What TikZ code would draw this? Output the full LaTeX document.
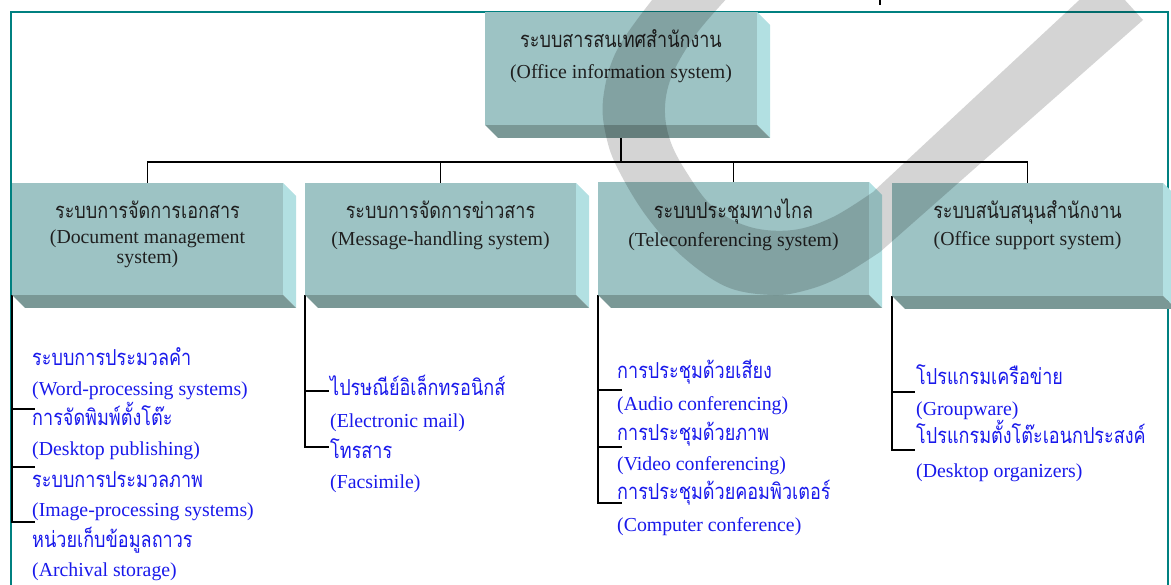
\documentclass[tikz,border=0pt]{standalone}
\usepackage{fontspec}
\setmainfont{Liberation Serif}
\newfontfamily\thaif[Script=Thai, FakeStretch=0.82]{Loma}
\pgfdeclarelayer{bg}
\pgfdeclarelayer{fg}
\pgfsetlayers{bg,main,fg}
\definecolor{frontcol}{RGB}{157,195,196}
\definecolor{sidecol}{RGB}{178,224,226}
\definecolor{botcol}{RGB}{122,152,150}
\definecolor{framecol}{RGB}{0,128,128}
\definecolor{itemblue}{RGB}{25,25,235}
\def\bdep{13}
\tikzset{
  boxfront/.style={fill=frontcol, inner sep=0pt, outer sep=0pt, anchor=north west},
  conn/.style={draw=black, line width=1.5pt},
  framel/.style={draw=framecol, line width=1.6pt},
  th/.style={font=\thaif\fontsize{22}{24}\selectfont},
  en/.style={font=\fontsize{19.8}{22}\selectfont},
  btxt/.style={text=black!88, anchor=base, inner sep=0pt},
  item/.style={text=itemblue, anchor=base west, inner sep=0pt},
  wm/.style={fill=black, fill opacity=0.17},
}
\newcommand\bevbox[5]{%
  \fill[sidecol] (#4,#3) -- ({#4+\bdep},{#3+\bdep}) -- ({#4+\bdep},{#5+\bdep}) -- (#4,#5) -- cycle;
  \fill[botcol] (#2,#5) -- (#4,#5) -- ({#4+\bdep},{#5+\bdep}) -- ({#2+\bdep},{#5+\bdep}) -- cycle;
  \node[boxfront, minimum width={#4-#2}, minimum height={#5-#3}] (#1) at (#2,#3) {};
}
\begin{document}
\begin{tikzpicture}[x=1pt, y=-1pt]
\useasboundingbox (0,0) rectangle (1171,585);
% frame
\begin{pgfonlayer}{bg}
\draw[framel] (11,585) -- (11,12) -- (1168,12) -- (1168,585);
\end{pgfonlayer}
% boxes
\bevbox{top}{485}{12}{757}{125}
\bevbox{b1}{12}{183}{283}{295}
\bevbox{b2}{305}{183}{576}{295}
\bevbox{b3}{598}{182}{869}{295}
\bevbox{b4}{892}{183}{1163}{296}
% box texts
\node[btxt, th] (t0a) at (621,48) {ระบบสารสนเทศสำนักงาน};
\node[btxt, en] (t0b) at (621,79) {(Office information system)};
\node[btxt, th] (t1a) at (147.5,219) {ระบบการจัดการเอกสาร};
\node[btxt, en] (t1b) at (147.5,244) {(Document management};
\node[btxt, en] (t1c) at (147.5,264) {system)};
\node[btxt, th] (t2a) at (440.5,219) {ระบบการจัดการข่าวสาร};
\node[btxt, en] (t2b) at (440.5,246) {(Message-handling system)};
\node[btxt, th] (t3a) at (733.5,219) {ระบบประชุมทางไกล};
\node[btxt, en] (t3b) at (733.5,247) {(Teleconferencing system)};
\node[btxt, th] (t4a) at (1027.5,219) {ระบบสนับสนุนสำนักงาน};
\node[btxt, en] (t4b) at (1027.5,246) {(Office support system)};
% tree connectors
\begin{pgfonlayer}{bg}
\coordinate (bus) at ([yshift=-37pt]top.south);
\draw[conn] (top.south) -- (bus);
\draw[conn] (b1.north) |- (bus);
\draw[conn] (b2.north) |- (bus);
\draw[conn] (b3.north) |- (bus);
\draw[conn] (b4.north) |- (bus);
\coordinate (k11) at (35,409);
\coordinate (k12) at (35,467);
\coordinate (k13) at (35,522);
\coordinate (k21) at (329,391);
\coordinate (k22) at (329,447);
\coordinate (k31) at (622,390);
\coordinate (k32) at (622,447);
\coordinate (k33) at (622,503);
\coordinate (k41) at (915,392);
\coordinate (k42) at (915,450);
\foreach \k in {k11,k12,k13} \draw[conn] (b1.south west) |- (\k);
\foreach \k in {k21,k22} \draw[conn] (b2.south west) |- (\k);
\foreach \k in {k31,k32,k33} \draw[conn] (b3.south west) |- (\k);
\foreach \k in {k41,k42} \draw[conn] (b4.south west) |- (\k);
\coordinate (tk) at (880,0);
\draw[conn] (tk) -- ++(0,5);
\end{pgfonlayer}
% items col 1
\node[item, th] (i11a) at (32,366) {ระบบการประมวลคำ};
\node[item, en] (i11b) at (32,396) {(Word-processing systems)};
\node[item, th] (i12a) at (32,426) {การจัดพิมพ์ตั้งโต๊ะ};
\node[item, en] (i12b) at (32,456) {(Desktop publishing)};
\node[item, th] (i13a) at (32,487) {ระบบการประมวลภาพ};
\node[item, en] (i13b) at (32,516) {(Image-processing systems)};
\node[item, th] (i14a) at (32,547) {หน่วยเก็บข้อมูลถาวร};
\node[item, en] (i14b) at (32,576) {(Archival storage)};
% col 2
\node[item, th] (i21a) at (330,396) {ไปรษณีย์อิเล็กทรอนิกส์};
\node[item, en] (i21b) at (330,428) {(Electronic mail)};
\node[item, th] (i22a) at (330,458) {โทรสาร};
\node[item, en] (i22b) at (330,488) {(Facsimile)};
% col 3
\node[item, th] (i31a) at (617,379) {การประชุมด้วยเสียง};
\node[item, en] (i31b) at (617,411) {(Audio conferencing)};
\node[item, th] (i32a) at (617,440) {การประชุมด้วยภาพ};
\node[item, en] (i32b) at (617,471) {(Video conferencing)};
\node[item, th] (i33a) at (617,500) {การประชุมด้วยคอมพิวเตอร์};
\node[item, en] (i33b) at (617,531) {(Computer conference)};
% col 4
\node[item, th] (i41a) at (916,385) {โปรแกรมเครือข่าย};
\node[item, en] (i41b) at (916,416) {(Groupware)};
\node[item, th] (i42a) at (916,444) {โปรแกรมตั้งโต๊ะเอนกประสงค์};
\node[item, en] (i42b) at (916,478) {(Desktop organizers)};
% watermark
\begin{pgfonlayer}{fg}
\clip (0,0) rectangle (1171,585);
\fill[wm] plot[smooth, tension=0.6] coordinates {(656,-5) (617,50) (603,100) (607,140) (620,173) (647,217) (683,257) (727,287) (773,295) (807,290) (840,277) (880,252)}
  -- (1143,20) -- (1104,-23) --
  plot[smooth, tension=0.6] coordinates {(873,192) (833,217) (793,230) (750,227) (713,207) (687,173) (670,140) (665,107) (673,73) (697,33) (730,-5)} -- cycle;
\end{pgfonlayer}
\end{tikzpicture}
\end{document}
